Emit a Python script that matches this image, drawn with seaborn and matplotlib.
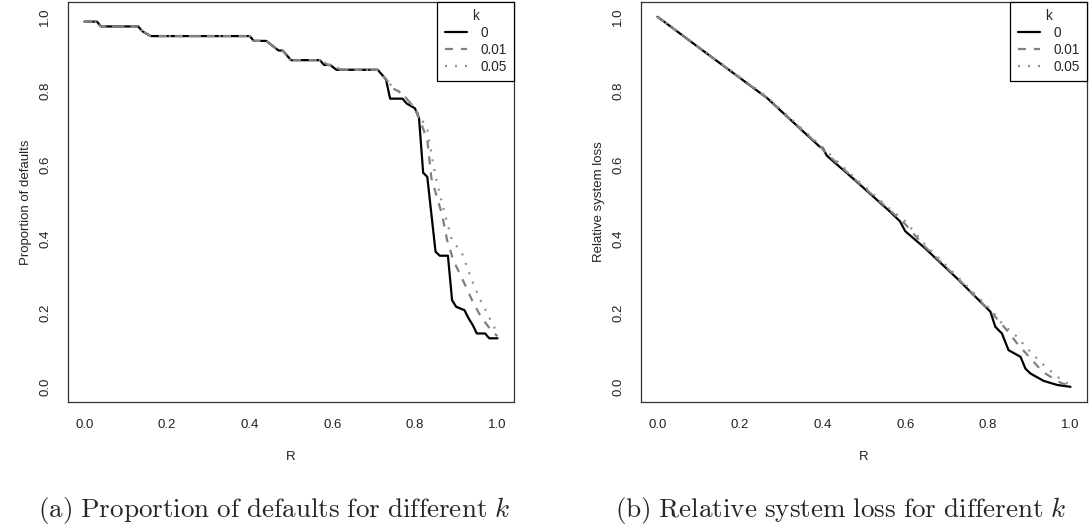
import numpy as np
import pandas as pd
import matplotlib
matplotlib.use("Agg")
import matplotlib.pyplot as plt
import seaborn as sns

# ---------------- data: panel (a) proportion of defaults ----------------
k_levels = ["0", "0.01", "0.05"]

def_r_k0 = [0.0, 0.03, 0.04, 0.13, 0.14, 0.16, 0.40, 0.41, 0.44, 0.455, 0.47, 0.48, 0.50,
            0.57, 0.58, 0.595, 0.61, 0.71, 0.72, 0.73, 0.74, 0.77, 0.78, 0.80, 0.805, 0.81,
            0.82, 0.83, 0.85, 0.86, 0.88, 0.89, 0.90, 0.92, 0.93, 0.94, 0.95, 0.97, 0.98, 1.0]
def_v_k0 = [0.987, 0.987, 0.974, 0.974, 0.961, 0.948, 0.948, 0.935, 0.935, 0.922, 0.909, 0.909, 0.883,
            0.883, 0.870, 0.870, 0.857, 0.857, 0.844, 0.831, 0.779, 0.779, 0.766, 0.753, 0.740, 0.727,
            0.579, 0.568, 0.366, 0.355, 0.355, 0.235, 0.217, 0.208, 0.186, 0.168, 0.145, 0.145, 0.132, 0.132]

def_r_k1 = [0.0, 0.03, 0.04, 0.13, 0.14, 0.16, 0.40, 0.41, 0.44, 0.455, 0.47, 0.48, 0.50,
            0.57, 0.59, 0.60, 0.62, 0.71, 0.72, 0.73, 0.75, 0.77, 0.79, 0.80, 0.81,
            0.83, 0.84, 0.866, 0.878, 0.893, 0.92, 0.94, 0.96, 0.987, 1.0]
def_v_k1 = [0.987, 0.987, 0.974, 0.974, 0.961, 0.948, 0.948, 0.935, 0.935, 0.922, 0.909, 0.909, 0.883,
            0.883, 0.870, 0.870, 0.857, 0.857, 0.844, 0.831, 0.805, 0.792, 0.766, 0.753, 0.727,
            0.668, 0.564, 0.465, 0.397, 0.343, 0.280, 0.231, 0.190, 0.150, 0.138]

def_r_k5 = [0.0, 0.03, 0.04, 0.13, 0.14, 0.16, 0.40, 0.41, 0.44, 0.455, 0.47, 0.48, 0.50,
            0.57, 0.59, 0.60, 0.62, 0.71, 0.72, 0.74, 0.77, 0.80, 0.815, 0.83, 0.85,
            0.87, 0.89, 0.914, 0.936, 0.955, 0.975, 1.0]
def_v_k5 = [0.987, 0.987, 0.974, 0.974, 0.961, 0.948, 0.948, 0.935, 0.935, 0.922, 0.909, 0.909, 0.883,
            0.883, 0.870, 0.870, 0.857, 0.857, 0.844, 0.818, 0.792, 0.753, 0.727, 0.695, 0.568,
            0.478, 0.397, 0.362, 0.294, 0.244, 0.199, 0.145]

# ---------------- data: panel (b) relative system loss ----------------
loss_r_k0 = [0.0, 0.129, 0.265, 0.392, 0.40, 0.41, 0.477, 0.562, 0.587, 0.60, 0.647, 0.725,
             0.806, 0.818, 0.834, 0.850, 0.879, 0.891, 0.903, 0.935, 0.968, 1.0]
loss_v_k0 = [1.0, 0.893, 0.781, 0.650, 0.646, 0.625, 0.560, 0.475, 0.448, 0.421, 0.376, 0.294,
             0.204, 0.163, 0.145, 0.100, 0.082, 0.050, 0.037, 0.017, 0.006, 0.001]

loss_r_k1 = [0.0, 0.129, 0.265, 0.392, 0.41, 0.477, 0.562, 0.60, 0.647, 0.725, 0.81,
             0.842, 0.871, 0.903, 0.933, 0.976, 1.0]
loss_v_k1 = [1.0, 0.893, 0.781, 0.652, 0.630, 0.562, 0.478, 0.440, 0.380, 0.296, 0.200,
             0.159, 0.118, 0.078, 0.041, 0.012, 0.003]

loss_r_k5 = [0.0, 0.129, 0.265, 0.392, 0.41, 0.477, 0.562, 0.60, 0.647, 0.725, 0.81,
             0.834, 0.867, 0.899, 0.931, 0.968, 1.0]
loss_v_k5 = [1.0, 0.895, 0.784, 0.655, 0.636, 0.566, 0.482, 0.448, 0.386, 0.300, 0.206,
             0.172, 0.140, 0.100, 0.064, 0.028, 0.005]

tick_vals = [0.0, 0.2, 0.4, 0.6, 0.8, 1.0]
tick_labels = ["0.0", "0.2", "0.4", "0.6", "0.8", "1.0"]

captions = ["(a) Proportion of defaults for different",
            "(b) Relative system loss for different"]
ylabels = ["Proportion of defaults", "Relative system loss"]


def long_frame(rs, vs):
    parts = []
    for k, r, v in zip(k_levels, rs, vs):
        parts.append(pd.DataFrame({"R": r, "value": v, "k": k}))
    return pd.concat(parts, ignore_index=True)


df_a = long_frame([def_r_k0, def_r_k1, def_r_k5], [def_v_k0, def_v_k1, def_v_k5])
df_b = long_frame([loss_r_k0, loss_r_k1, loss_r_k5], [loss_v_k0, loss_v_k1, loss_v_k5])

# ---------------- style ----------------
sns.set_style("white")
plt.rcParams["font.family"] = ["Liberation Sans", "DejaVu Sans"]
plt.rcParams["mathtext.fontset"] = "cm"

palette = {"0": "black", "0.01": "#808080", "0.05": "#909090"}
dashes = {"0": "", "0.01": (3.6, 3.6), "0.05": (0.9, 3.6)}

W, H = 1089, 532
fig = plt.figure(figsize=(W / 100, H / 100), dpi=100)
fig.patch.set_facecolor("white")

boxes = [(68, 2, 514, 402), (641, 2, 1087, 402)]
caption_cx = [274, 841]
frames = [df_a, df_b]

for i, (box, df) in enumerate(zip(boxes, frames)):
    x0, y0, x1, y1 = box
    ax = fig.add_axes([x0 / W, 1 - y1 / H, (x1 - x0) / W, (y1 - y0) / H])
    sns.lineplot(data=df, x="R", y="value", hue="k", style="k",
                 hue_order=k_levels, style_order=k_levels,
                 palette=palette, dashes=dashes, estimator=None, sort=False,
                 linewidth=1.6, ax=ax)
    ax.set_xlim(-0.04, 1.04)
    ax.set_ylim(-0.04, 1.04)
    ax.set_xticks(tick_vals)
    ax.set_xticklabels(tick_labels)
    ax.set_yticks(tick_vals)
    ax.set_yticklabels(tick_labels, rotation=90, va="center")
    ax.tick_params(axis="both", direction="out", length=5.5, width=0.8,
                   color="black", labelsize=9.5, labelcolor="#222222")
    ax.tick_params(axis="x", pad=7)
    ax.tick_params(axis="y", pad=6.5)
    for sp in ax.spines.values():
        sp.set_visible(True)
        sp.set_color("#333333")
        sp.set_linewidth(0.9)
    ax.set_xlabel("R", fontsize=9.5, color="#222222", va="center")
    ax.set_ylabel(ylabels[i], fontsize=9.5, color="#222222", va="center")
    ax.xaxis.set_label_coords(0.5, -(457 - 402) / 400)
    ax.yaxis.set_label_coords(-(68 - 26) / 446, 0.5)
    ax.set_facecolor("white")

    leg = ax.legend(title="k", loc="upper right", borderaxespad=0,
                    fontsize=9.8, title_fontsize=9.8, handlelength=1.6,
                    handletextpad=1.0, labelspacing=0.2, borderpad=0.55,
                    fancybox=False, framealpha=1, edgecolor="black",
                    alignment="center")
    leg.get_frame().set_linewidth(0.9)
    for line in leg.get_lines():
        line.set_linewidth(1.6)

    fig.text(caption_cx[i] / W, 1 - 510 / H,
             r"$\mathrm{" + captions[i].replace(" ", r"\ ") + r"}\ k$",
             ha="center", va="center", fontsize=19.5)

fig.savefig("out.png", dpi=100, facecolor="white")
